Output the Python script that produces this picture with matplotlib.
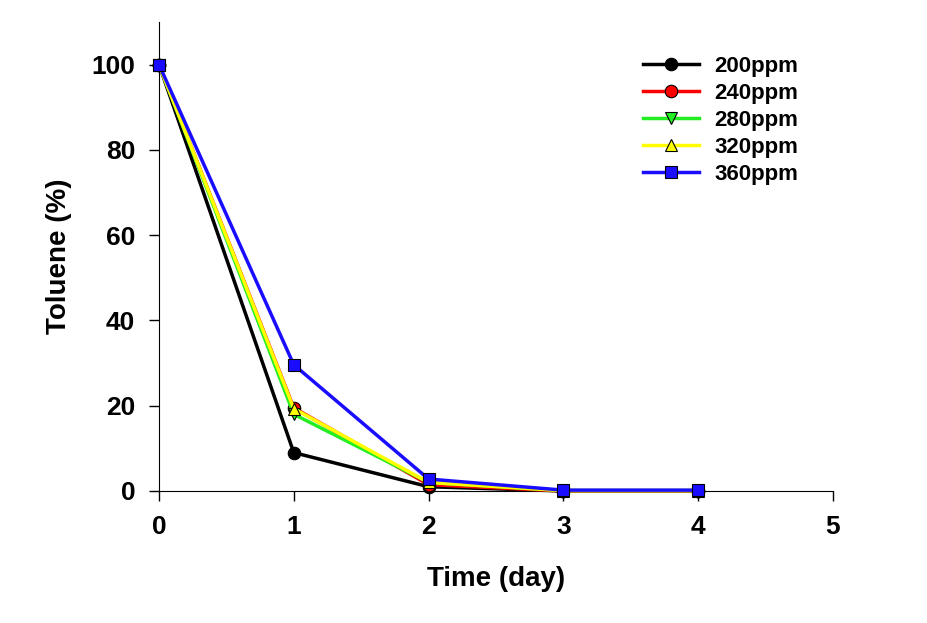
import matplotlib
matplotlib.use("Agg")
import matplotlib.pyplot as plt

plt.rcParams['font.family'] = ['Liberation Sans', 'DejaVu Sans']
plt.rcParams['font.weight'] = 'bold'

days = [0, 1, 2, 3, 4]
labels = ['200ppm', '240ppm', '280ppm', '320ppm', '360ppm']
ppm200 = [100, 9, 1, 0, 0]
ppm240 = [100, 19.5, 1.5, 0, 0]
ppm280 = [100, 18, 2, 0.1, 0.1]
ppm320 = [100, 19.3, 2, 0.1, 0.1]
ppm360 = [100, 29.6, 2.8, 0.2, 0.2]

series = [ppm200, ppm240, ppm280, ppm320, ppm360]
colors = ['black', 'red', '#22ee22', 'yellow', '#1a0dff']
markers = ['o', 'o', 'v', '^', 's']

fig = plt.figure(figsize=(9.27, 6.23), dpi=100)
ax = fig.add_axes([0.1715, 0.2119, 0.727, 0.753])

for y, lab, c, m in zip(series, labels, colors, markers):
    ax.plot(days, y, color=c, lw=2.5, marker=m, markersize=9,
            markerfacecolor=c, markeredgecolor='black', markeredgewidth=0.8,
            label=lab, clip_on=False, zorder=3)

ax.set_xlim(0, 5)
ax.set_ylim(0, 110)
ax.set_xticks([0, 1, 2, 3, 4, 5])
ax.set_yticks([0, 20, 40, 60, 80, 100])
ax.spines['top'].set_visible(False)
ax.spines['right'].set_visible(False)
ax.tick_params(direction='out', length=7, width=1, labelsize=19, pad=10)
ax.set_xlabel('Time (day)', fontsize=20, fontweight='bold', labelpad=20)
ax.set_ylabel('Toluene (%)', fontsize=20, fontweight='bold', labelpad=14)

leg = ax.legend(loc='upper right', bbox_to_anchor=(0.978, 0.97), frameon=False,
                fontsize=16, handlelength=2.5, labelspacing=0.27, handletextpad=0.7)

fig.savefig('out.png', dpi=100)
